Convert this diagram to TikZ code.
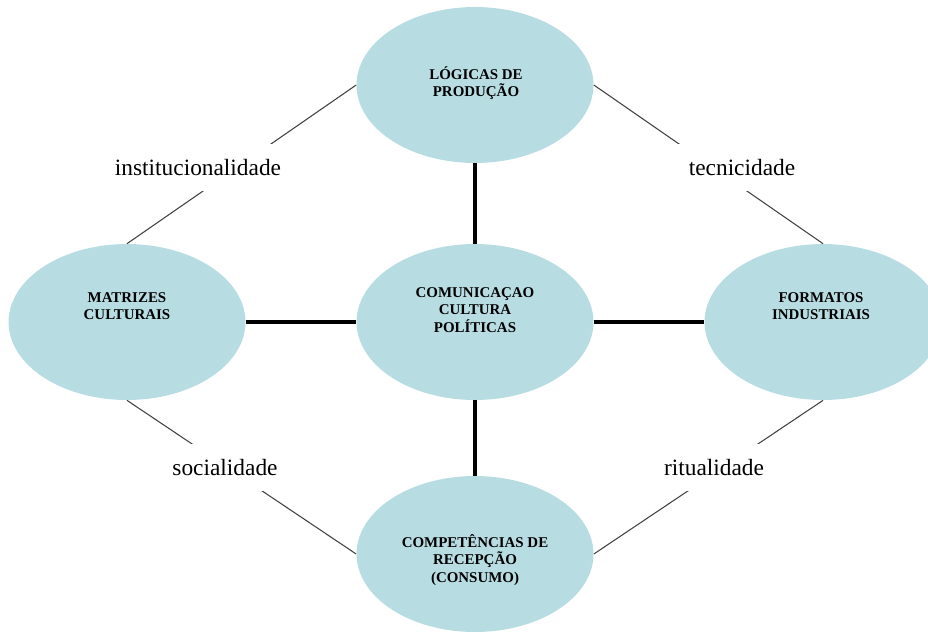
\documentclass[tikz,border=0pt]{standalone}
\usepackage{fontspec}
\setmainfont{Liberation Serif}
\usetikzlibrary{shapes.geometric}
\definecolor{bubblefill}{RGB}{183,221,227}

\begin{document}
\begin{tikzpicture}[
  x=0.02cm, y=-0.02cm,
  every node/.style={align=center},
  bubble/.style={ellipse, fill=bubblefill, minimum width=4.74cm, minimum height=3.12cm, inner sep=0pt},
  bubtext/.style={font=\fontsize{8.5}{9.9}\selectfont\bfseries, inner sep=0pt},
  spoke/.style={line width=2.8pt, draw=black},
  link/.style={line width=0.6pt, draw=black!75},
  dimlabel/.style={fill=white, font=\fontsize{13.3}{16}\selectfont, inner xsep=0.25cm, minimum height=0.94cm},
]
\clip (0,0) rectangle (928,633);

% ---------------------------------------------------------------- ellipses
\node[bubble] (producao)  at (475,85)  {};
\node[bubble] (centro)    at (475,322) {};
\node[bubble] (matrizes)  at (127,322) {};
\node[bubble] (formatos)  at (823,322) {};
\node[bubble] (recepcao)  at (475,554) {};

\node[bubtext] (producao-t) at (476,83)  {LÓGICAS DE\\PRODUÇÃO};
\node[bubtext] (centro-t)   at (475,310) {COMUNICAÇAO\\CULTURA\\POLÍTICAS};
\node[bubtext] (matrizes-t) at (127,306) {MATRIZES\\CULTURAIS};
\node[bubtext] (formatos-t) at (821,306) {FORMATOS\\INDUSTRIAIS};
\node[bubtext] (recepcao-t) at (475,560) {COMPETÊNCIAS DE\\RECEPÇÃO\\(CONSUMO)};

% ---------------------------------------------------------------- spokes
\draw[spoke] (producao) -- (centro);
\draw[spoke] (centro)   -- (recepcao);
\draw[spoke] (matrizes) -- (centro);
\draw[spoke] (centro)   -- (formatos);

% ---------------------------------------------------------------- mediations
\draw[link] (producao.west) -- (matrizes.north);
\draw[link] (producao.east) -- (formatos.north);
\draw[link] (matrizes.south) -- (recepcao.west);
\draw[link] (formatos.south) -- (recepcao.east);

\node[dimlabel] (inst)  at (198,167) {institucionalidade};
\node[dimlabel] (tecn)  at (742,167) {tecnicidade};
\node[dimlabel] (soc)   at (225,467) {socialidade};
\node[dimlabel] (ritu)  at (714,467) {ritualidade};

\end{tikzpicture}
\end{document}
